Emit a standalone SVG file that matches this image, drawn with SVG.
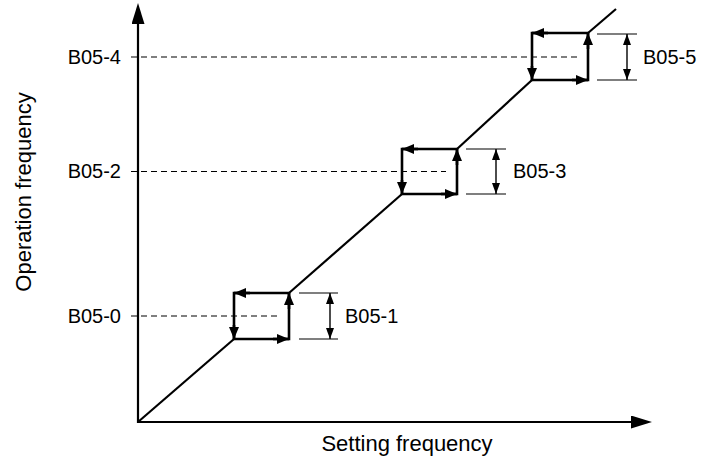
<svg xmlns="http://www.w3.org/2000/svg" width="702" height="462" viewBox="0 0 702 462">
<style>
text{font-family:"Liberation Sans",Arial,sans-serif;font-size:20px;fill:#000}
.ax{stroke:#000;stroke-width:2.2;fill:none}
.diag{stroke:#000;stroke-width:2.2;fill:none}
.box{stroke:#000;stroke-width:2.6;fill:none}
.ah{stroke:#000;stroke-width:2.6;fill:none}
.dash{stroke:#000;stroke-width:1.2;stroke-dasharray:6 4;fill:none}
.ext{stroke:#000;stroke-width:1.2;fill:none}
.dim{stroke:#000;stroke-width:1.4;fill:none}
.title{font-size:22px}
</style>
<defs>
<marker id="axh" markerUnits="userSpaceOnUse" markerWidth="22" markerHeight="14" refX="0" refY="6.5" orient="auto"><path d="M0,0 L21,6.5 L0,13 z" fill="#000"/></marker>
<marker id="bh" markerUnits="userSpaceOnUse" markerWidth="13" markerHeight="11" refX="12" refY="5" orient="auto"><path d="M0,0 L12,5 L0,10 z" fill="#000"/></marker>
<marker id="dh" markerUnits="userSpaceOnUse" markerWidth="12" markerHeight="9" refX="11" refY="4" orient="auto-start-reverse"><path d="M0,0 L11,4 L0,8 z" fill="#000"/></marker>
</defs>

<g id="axes">
<path class="ax" d="M138,423 V24" marker-end="url(#axh)"/>
<path class="ax" d="M137,422 H631" marker-end="url(#axh)"/>
<text class="title" transform="translate(31,192) rotate(-90)" text-anchor="middle">Operation frequency</text>
<text class="title" x="407" y="451" text-anchor="middle">Setting frequency</text>
</g>

<g id="connectors">
<path class="diag" d="M138,422 L234,339"/>
<path class="diag" d="M289,293 L402,194"/>
<path class="diag" d="M457,149 L532,80"/>
<path class="diag" d="M588,33 L616,9"/>
<path class="dash" d="M131,316 H278"/>
<path class="dash" d="M131,171.5 H446"/>
<path class="dash" d="M131,57 H577"/>
</g>

<g id="levels">
<text x="121" y="323" text-anchor="end">B05-0</text>
<text x="121" y="178" text-anchor="end">B05-2</text>
<text x="121" y="64" text-anchor="end">B05-4</text>
</g>

<g id="hyst1">
<path class="box" d="M289,293 H234 V339 H289 Z"/>
<path class="ah" d="M250,293 H234" marker-end="url(#bh)"/>
<path class="ah" d="M234,325 V339" marker-end="url(#bh)"/>
<path class="ah" d="M273,339 H289" marker-end="url(#bh)"/>
<path class="ah" d="M289,309 V293" marker-end="url(#bh)"/>
<path class="ext" d="M299,293 H338 M299,339 H338"/>
<path class="dim" d="M330,293 V339" marker-start="url(#dh)" marker-end="url(#dh)"/>
<text x="345" y="323">B05-1</text>
</g>

<g id="hyst2">
<path class="box" d="M457,149 H402 V194 H457 Z"/>
<path class="ah" d="M418,149 H402" marker-end="url(#bh)"/>
<path class="ah" d="M402,180 V194" marker-end="url(#bh)"/>
<path class="ah" d="M441,194 H457" marker-end="url(#bh)"/>
<path class="ah" d="M457,165 V149" marker-end="url(#bh)"/>
<path class="ext" d="M466,149 H506 M466,194 H506"/>
<path class="dim" d="M496,149 V194" marker-start="url(#dh)" marker-end="url(#dh)"/>
<text x="513" y="178">B05-3</text>
</g>

<g id="hyst3">
<path class="box" d="M588,33 H532 V80 H588 Z"/>
<path class="ah" d="M548,33 H532" marker-end="url(#bh)"/>
<path class="ah" d="M532,66 V80" marker-end="url(#bh)"/>
<path class="ah" d="M572,80 H588" marker-end="url(#bh)"/>
<path class="ah" d="M588,49 V33" marker-end="url(#bh)"/>
<path class="ext" d="M597,34 H637 M597,80 H637"/>
<path class="dim" d="M627,34 V80" marker-start="url(#dh)" marker-end="url(#dh)"/>
<text x="643" y="64">B05-5</text>
</g>
</svg>
